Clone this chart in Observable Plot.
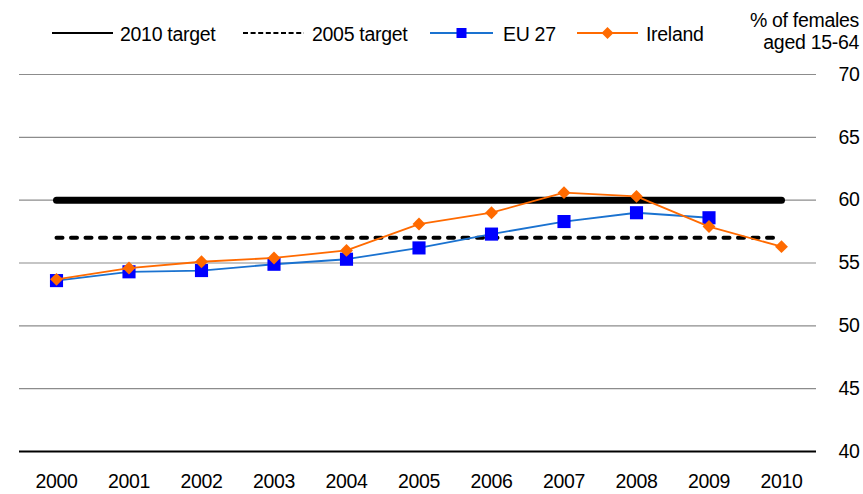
<!DOCTYPE html>
<html><head><meta charset="utf-8">
<script src="https://cdn.jsdelivr.net/npm/d3@7"></script>
<script src="https://cdn.jsdelivr.net/npm/@observablehq/plot@0.6"></script>
<style>
body{margin:0;background:#fff;font-family:"Liberation Sans",Arial,sans-serif;}
#wrap{position:relative;width:863px;height:494px;}
#legend{position:absolute;left:0;top:0;}
svg text{letter-spacing:-0.3px;}
</style></head><body>
<div id="wrap"><div id="chart"></div></div>
<script>
const years = [2000,2001,2002,2003,2004,2005,2006,2007,2008,2009,2010];
const eu27 = [53.6,54.3,54.4,54.9,55.3,56.2,57.3,58.3,59.0,58.6];
const ireland = [53.7,54.6,55.1,55.4,56.0,58.1,59.0,60.6,60.3,57.9,56.3];
const target2010 = 60;
const target2005 = 57;
const yTicks = [40,45,50,55,60,65,70];
const seriesNames = ["2010 target","2005 target","EU 27","Ireland"];
const unitLines = ["% of females","aged 15-64"];

const euData = eu27.map((v,i)=>({year:years[i], value:v}));
const ieData = ireland.map((v,i)=>({year:years[i], value:v}));

const EU_LINE = "#1a72d0", EU_MARK = "#0000ff", IE = "#ff6a00";
const FONT = '"Liberation Sans", Arial, sans-serif';

const chart = Plot.plot({
  width: 863, height: 494,
  marginTop: 74, marginBottom: 43, marginLeft: 19, marginRight: 47,
  style: {fontFamily: FONT, fontSize: "19.5px", color: "#000", background: "#fff"},
  x: {type: "linear", domain: [2000, 2010], insetLeft: 37, insetRight: 35},
  y: {domain: [40, 70]},
  marks: [
    Plot.ruleY(yTicks.filter(d => d > 40), {stroke: "#8c8c8c", strokeWidth: 1.2}),
    Plot.ruleY([40], {stroke: "#000", strokeWidth: 2}),
    Plot.line(years, {x: d => d, y: () => target2010, stroke: "#000", strokeWidth: 7, strokeLinecap: "round"}),
    Plot.line(years, {x: d => d, y: () => target2005, stroke: "#000", strokeWidth: 4, strokeLinecap: "round", strokeDasharray: "6,8.5"}),
    Plot.line(euData, {x: "year", y: "value", stroke: EU_LINE, strokeWidth: 1.8}),
    Plot.dot(euData, {x: "year", y: "value", symbol: "square", r: 7.4, fill: EU_MARK}),
    Plot.line(ieData, {x: "year", y: "value", stroke: IE, strokeWidth: 1.8}),
    Plot.dot(ieData, {x: "year", y: "value", symbol: "diamond2", r: 5.8, fill: IE}),
    Plot.axisX({ticks: years, tickFormat: "d", tickSize: 0, tickPadding: 23, label: null}),
    Plot.axisY({anchor: "right", ticks: yTicks, tickSize: 0, tickPadding: 22, label: null})
  ]
});
document.getElementById("chart").appendChild(chart);

// Legend overlay
const lg = d3.select("#wrap").append("svg").attr("id","legend").attr("width",863).attr("height",60)
  .style("font-family", FONT).style("font-size","19.5px");
const ly = 33;
const items = [
  {x1:52, x2:113, tx:120, stroke:"#000", dash:null, sym:null},
  {x1:243, x2:304, tx:312, stroke:"#000", dash:"5,2.6", sym:null},
  {x1:430, x2:493, tx:503, stroke:EU_LINE, dash:null, sym:"square", fill:EU_MARK},
  {x1:577, x2:638, tx:646, stroke:IE, dash:null, sym:"diamond", fill:IE}
];
items.forEach((it,i)=>{
  lg.append("line").attr("x1",it.x1).attr("x2",it.x2).attr("y1",ly).attr("y2",ly)
    .attr("stroke",it.stroke).attr("stroke-width",2).attr("stroke-dasharray",it.dash);
  const cx = (it.x1+it.x2)/2;
  if (it.sym === "square") lg.append("rect").attr("x",cx-5).attr("y",ly-5).attr("width",10).attr("height",10).attr("fill",it.fill);
  if (it.sym === "diamond") lg.append("path").attr("d",`M${cx},${ly-6}L${cx+6},${ly}L${cx},${ly+6}L${cx-6},${ly}Z`).attr("fill",it.fill);
  lg.append("text").attr("x",it.tx).attr("y",ly+1).attr("dy","0.35em").text(seriesNames[i]);
});
unitLines.forEach((t,i)=>{
  lg.append("text").attr("x",859).attr("y",20+i*22.5).attr("dy","0.35em").attr("text-anchor","end").text(t);
});
</script>
</body></html>
